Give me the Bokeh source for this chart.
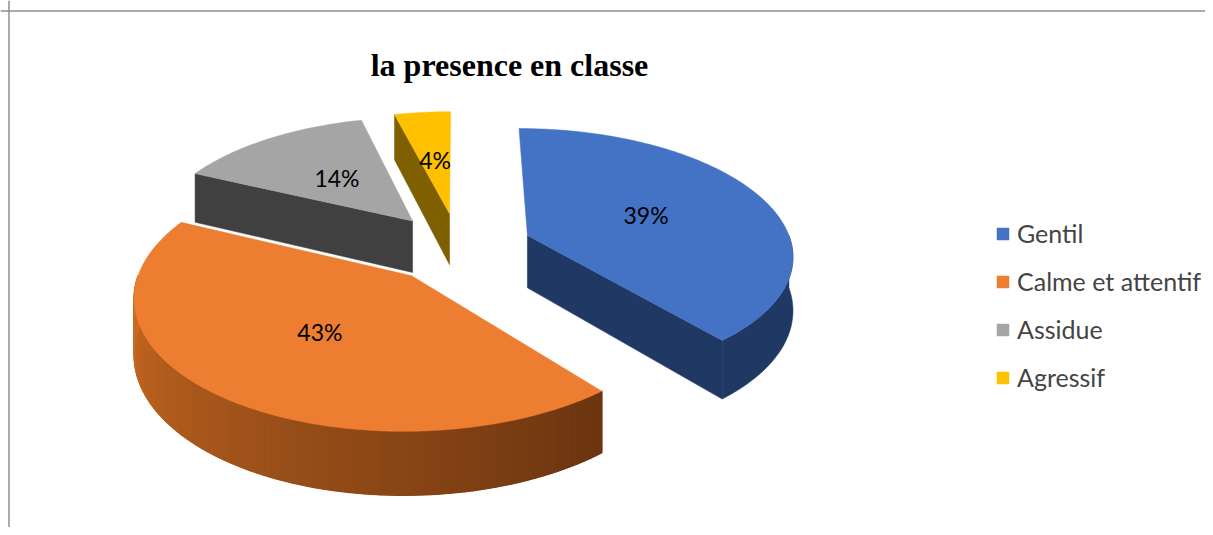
import numpy as np
from bokeh.plotting import figure
from bokeh.models import Range1d, Span, Label, Legend, LegendItem
from bokeh.embed import file_html
from bokeh.resources import INLINE
from bokeh.core.properties import value

# ---- data ----
categories = ["Gentil", "Calme et attentif", "Assidue", "Agressif"]
values = [39, 43, 14, 4]
labels = ["39%", "43%", "14%", "4%"]
top_colors = ["#4472C4", "#ED7D31", "#A5A5A5", "#FFC000"]
side_colors = ["#1F3864", "#9C521B", "#404040", "#7F6000"]
title = "la presence en classe"

# ---- layout / projection parameters ----
W, H = 1205, 527
CX, CY = 458, 246.7       # pie centre (pixels, y downward)
S, A, K, T = 265, 125, 0.14, 53
EXPLODE = 0.28


def proj(X, Z):
    s = 1.0 / (1.0 + K * Z)
    return CX + S * X * s, CY - A * Z * s, s


def hexmix(c0, c1, t):
    a = np.array([int(c0[i:i + 2], 16) for i in (1, 3, 5)], float)
    b = np.array([int(c1[i:i + 2], 16) for i in (1, 3, 5)], float)
    c = a + (b - a) * t
    return "#%02x%02x%02x" % tuple(int(round(v)) for v in c)


p = figure(width=W, height=H, output_backend="svg", toolbar_location=None,
           x_range=Range1d(0, W), y_range=Range1d(H, 0), min_border=0)
p.axis.visible = False
p.grid.visible = False
p.outline_line_color = None
p.background_fill_color = "white"

# chart border (left and top edges visible)
p.add_layout(Span(location=8.5, dimension="height", line_color="#8f8f8f", line_width=1.5))
p.add_layout(Span(location=10.5, dimension="width", line_color="#8f8f8f", line_width=1.5))

total = float(sum(values))
bounds = np.concatenate([[0], np.cumsum(values)]) / total * 2 * np.pi

slices = []
for i in range(len(values)):
    a0, a1 = bounds[i], bounds[i + 1]
    m = 0.5 * (a0 + a1)
    ox, oz = EXPLODE * np.sin(m), EXPLODE * np.cos(m)
    slices.append((a0, a1, m, ox, oz))

top_renderers = {}
draw_order = [3, 2, 0, 1]
for i in draw_order:
    a0, a1, m, ox, oz = slices[i]
    # cut faces facing the viewer
    for ang, nrm in ((a0, a0 - np.pi / 2), (a1, a1 + np.pi / 2)):
        if np.cos(nrm) < -1e-6:
            xa, ya, sa = proj(ox, oz)
            xb, yb, sb = proj(ox + np.sin(ang), oz + np.cos(ang))
            xs = [xa, xb, xb, xa]
            ys = [ya, yb, yb + T * sb, ya + T * sa]
            p.patch(xs, ys, fill_color=side_colors[i], line_color=side_colors[i], line_width=0.5)
    # outer wall (front part)
    lo, hi = max(a0, np.pi / 2), min(a1, 1.5 * np.pi)
    if hi > lo:
        n = max(2, int(np.degrees(hi - lo) / 1.5))
        th = np.linspace(lo, hi, n + 1)
        X = ox + np.sin(th)
        Z = oz + np.cos(th)
        x, y, s = proj(X, Z)
        yb = y + T * s
        p.patch(list(x) + list(x[::-1]), list(y) + list(yb[::-1]),
                fill_color=side_colors[i], line_color=side_colors[i], line_width=0.5)
        if i == 1:
            xs_l, ys_l, cols = [], [], []
            for j in range(n):
                xs_l.append([x[j], x[j + 1], x[j + 1], x[j]])
                ys_l.append([y[j], y[j + 1], yb[j + 1], yb[j]])
                t = (1.5 * np.pi - 0.5 * (th[j] + th[j + 1])) / (1.5 * np.pi - a0)
                cols.append(hexmix("#CC6B22", "#6A3410", t))
            p.patches(xs_l, ys_l, fill_color=cols, line_color=cols, line_width=1.4)
    # top face
    th = np.linspace(a0, a1, max(3, int(np.degrees(a1 - a0)) + 1))
    X = np.concatenate([[ox], ox + np.sin(th)])
    Z = np.concatenate([[oz], oz + np.cos(th)])
    x, y, s = proj(X, Z)
    top_renderers[i] = p.patch(list(x), list(y), fill_color=top_colors[i],
                               line_color=top_colors[i], line_width=0.5)

# percentage labels
lx, ly = [], []
for i in range(len(values)):
    a0, a1, m, ox, oz = slices[i]
    x, y, s = proj(ox + 0.5 * np.sin(m), oz + 0.5 * np.cos(m))
    lx.append(x)
    ly.append(y)
p.text(x=lx, y=ly, text=labels, text_align="center", text_baseline="middle",
       text_font=value("Lato"), text_font_size=value("23px"), text_color="#000000")

# title
p.add_layout(Label(x=509, y=64, text=title, text_align="center", text_baseline="alphabetic",
                   text_font="Liberation Serif", text_font_style="bold",
                   text_font_size="32px", text_color="#000000"))

# legend
legend = Legend(items=[LegendItem(label=categories[i], renderers=[top_renderers[i]])
                       for i in range(len(categories))],
                location=(995, 135), glyph_width=15, glyph_height=15,
                label_text_font="Lato", label_text_font_size="25px",
                label_standoff=7, spacing=18, padding=0, margin=0,
                border_line_color=None, background_fill_alpha=0)
p.add_layout(legend)

open("out.html", "w").write(file_html(p, INLINE))
